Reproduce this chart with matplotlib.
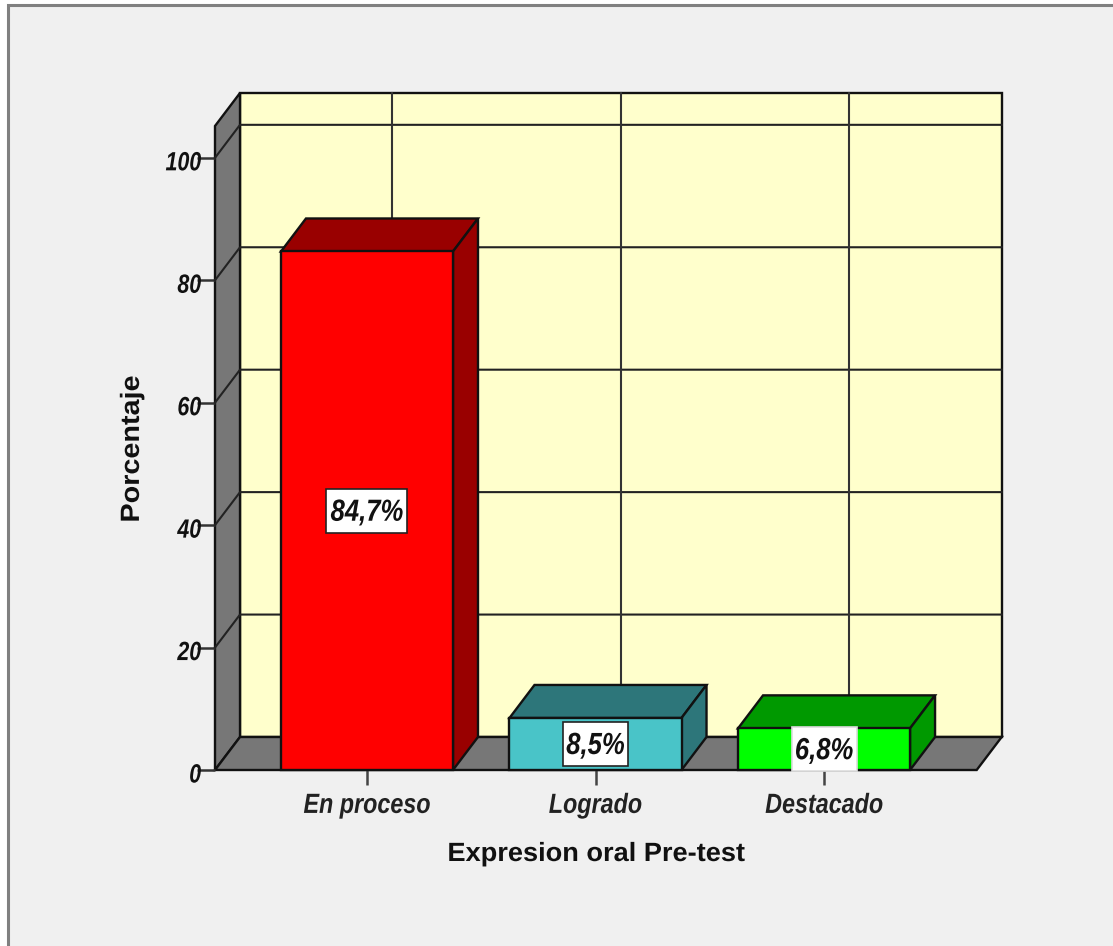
"""Expresion oral Pre-test: SPSS style 3D bar chart, faked with flat polygons."""
import matplotlib
matplotlib.use("Agg")
import matplotlib.patheffects as pe
import matplotlib.pyplot as plt
from matplotlib.patches import Rectangle
from matplotlib.transforms import Affine2D

CATEGORIES = ["En proceso", "Logrado", "Destacado"]
PERCENTS = [84.7, 8.5, 6.8]
BAR_LABELS = ["84,7%", "8,5%", "6,8%"]
YTICKS = [0, 20, 40, 60, 80, 100]

FRONT_COLORS = ["#FF0000", "#49C4C8", "#00FF00"]
SHADE_COLORS = ["#990000", "#2D767A", "#009900"]
BOX_EDGES = ["#222222", "#222222", "#DDDDDD"]
WALL = "#777777"
BACK = "#FFFFCC"
PAGE = "#F0F0F0"
FONT = "Liberation Sans"

W, H = 1113, 946
PX_X = 228.5  # pixels per category
PX_Y = 6.12   # pixels per percent
# depth of the fake 3D, in data units
DX = 25 / PX_X
DY = 33 / PX_Y
BAR_W = 172 / PX_X
BOX_W = [81 / PX_X, 65 / PX_X, 65 / PX_X]
BOX_H = 44 / PX_Y
XLIM = (-0.665, 2.668)
YTOP = 105.2


class Squeeze(pe.AbstractPathEffect):
    """Arial Narrow is not installed, so scale the glyphs sideways instead."""

    def __init__(self, sx, anchor="center", dy=0):
        super().__init__()
        self.sx, self.anchor, self.dy = sx, anchor, dy

    def draw_path(self, renderer, gc, tpath, affine, rgbFace=None):
        ext = tpath.get_extents()
        ref = ext.x1 if self.anchor == "right" else (ext.x0 + ext.x1) / 2
        squeeze = Affine2D().translate(-ref, 0).scale(self.sx, 1).translate(ref, 0)
        shift = Affine2D().translate(0, self.dy)
        renderer.draw_path(gc, tpath, squeeze + affine + shift, rgbFace)


fig = plt.figure(figsize=(W / 100, H / 100), dpi=100, facecolor="white")
fig.add_artist(Rectangle((8 / W, -0.1), 1.1, 1.1 - 5 / H, transform=fig.transFigure,
                         fc=PAGE, ec="#808080", lw=2.2, zorder=-1))

ax = fig.add_axes([215 / W, (H - 770) / H, 761.7 / W, 644 / H])
ax.set_xlim(*XLIM)
ax.set_ylim(0, YTOP)
ax.patch.set_visible(False)
for s in ax.spines.values():
    s.set_visible(False)

x0, x1 = XLIM
LW = 1.7
GRID_LW = 1.5

# walls
ax.fill([x0 + DX, x1 + DX, x1 + DX, x0 + DX], [DY, DY, YTOP + DY, YTOP + DY],
        fc=BACK, ec="#111111", lw=LW, clip_on=False, zorder=1)
ax.fill([x0, x0 + DX, x0 + DX, x0], [0, DY, YTOP + DY, YTOP],
        fc=WALL, ec="#111111", lw=LW, clip_on=False, zorder=1)
ax.fill([x0, x1, x1 + DX, x0 + DX], [0, 0, DY, DY],
        fc=WALL, ec="#111111", lw=LW, clip_on=False, zorder=1)

# grid on back and side wall
for t in YTICKS[1:]:
    ax.plot([x0, x0 + DX, x1 + DX], [t, t + DY, t + DY], color="#222222", lw=GRID_LW,
            clip_on=False, zorder=2)
for i in range(len(CATEGORIES)):
    ax.plot([i + DX, i + DX], [DY, YTOP + DY], color="#333333", lw=GRID_LW,
            clip_on=False, zorder=2)

# bars
for i, v in enumerate(PERCENTS):
    l, r = i - BAR_W / 2, i + BAR_W / 2
    ax.fill([l, r, r + DX, l + DX], [v, v, v + DY, v + DY], fc=SHADE_COLORS[i],
            ec="#111111", lw=LW, clip_on=False, zorder=3)
    ax.fill([r, r + DX, r + DX, r], [0, DY, v + DY, v], fc=SHADE_COLORS[i],
            ec="#111111", lw=LW, clip_on=False, zorder=3)
    ax.bar(i, v, width=BAR_W, color=FRONT_COLORS[i], edgecolor="#111111", lw=LW,
           clip_on=False, zorder=4)
    ax.add_patch(Rectangle((i - BOX_W[i] / 2, v / 2 - BOX_H / 2), BOX_W[i], BOX_H,
                           fc="white", ec=BOX_EDGES[i], lw=1.2, clip_on=False, zorder=5))
    ax.text(i, v / 2, BAR_LABELS[i], ha="center", va="center", family=FONT,
            style="italic", weight="bold", fontsize=22, color="#111111", zorder=6,
            path_effects=[Squeeze(0.84, dy=-2)])

ax.set_yticks(YTICKS)
ax.set_yticklabels([str(t) for t in YTICKS], family=FONT, style="italic",
                   weight="bold", fontsize=19, color="#111111")
for lab in ax.get_yticklabels():
    lab.set_path_effects([Squeeze(0.81, anchor="right", dy=-3)])
ax.set_xticks(range(len(CATEGORIES)))
ax.set_xticklabels(CATEGORIES, family=FONT, style="italic", weight="bold",
                   fontsize=20, color="#222222")
for lab in ax.get_xticklabels():
    lab.set_path_effects([Squeeze(0.84)])
ax.tick_params(axis="y", length=13, width=1.8, color="#333333", pad=-3)
ax.tick_params(axis="x", length=11, width=1.8, color="#444444", pad=5.5)

ax.set_xlabel("Expresion oral Pre-test", family=FONT, weight="bold",
              fontsize=19, color="#111111")
ax.xaxis.set_label_coords((596 - 215) / 761, -(852 - 770) / 644)
ax.xaxis.label.set_va("center")
ax.xaxis.label.set_path_effects([Squeeze(1.03, dy=-2)])
ax.set_ylabel("Porcentaje", family=FONT, weight="bold", fontsize=19, color="#111111")
ax.yaxis.set_label_coords((132 - 215) / 761, (770 - 449) / 644)
ax.yaxis.label.set_va("center")
ax.yaxis.label.set_path_effects([Squeeze(1.09)])

fig.savefig("out.png", dpi=100, facecolor=fig.get_facecolor())
